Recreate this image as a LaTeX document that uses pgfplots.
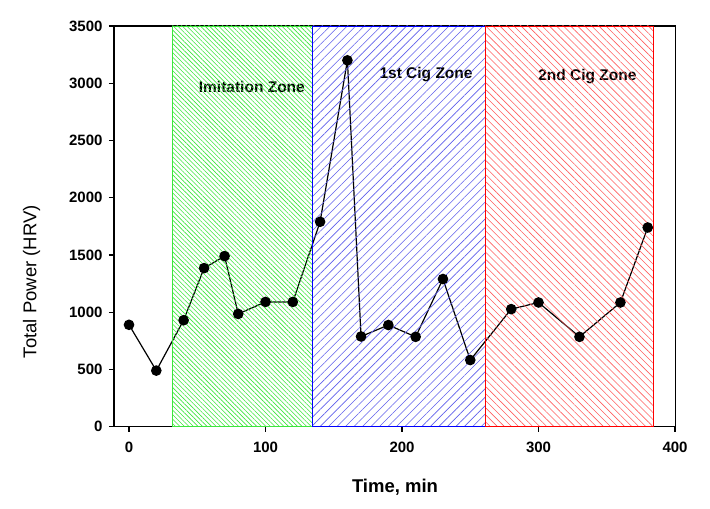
\documentclass[border=0pt]{standalone}
\usepackage{fontspec}
\setmainfont{Liberation Sans}
\usepackage{pgfplots}
\pgfplotsset{compat=1.18}
\usetikzlibrary{patterns.meta}
\definecolor{hgreen}{RGB}{60,230,60}
\definecolor{hblue}{RGB}{95,95,235}
\definecolor{hred}{RGB}{255,95,95}
\begin{document}
\begin{tikzpicture}
\path[use as bounding box] (-114pt,-82.3pt) rectangle (596pt,426.7pt);
\begin{axis}[
  scale only axis,
  width=561.7pt, height=400.7pt,
  xmin=-11, xmax=400.5, ymin=0, ymax=3500,
  xtick={0,100,200,300,400},
  ytick={0,500,1000,1500,2000,2500,3000,3500},
  xtick pos=bottom, ytick pos=left,
  tick align=outside,
  major tick length=5pt,
  minor tick num=0,
  axis line style={line width=1.2pt},
  every tick/.style={line width=1.2pt, black},
  /pgf/number format/assume math mode=true,
  /pgf/number format/set thousands separator={},
  ticklabel style={font=\fontsize{15}{17}\selectfont\bfseries},
  xticklabel style={yshift=-7pt},
  yticklabel style={xshift=-3pt},
  xlabel={Time, min},
  ylabel={Total Power (HRV)},
  xlabel style={font=\fontsize{18.5}{21}\selectfont\bfseries, at={(axis description cs:0.5003,-0.150)}, anchor=center},
  ylabel style={font=\fontsize{18.5}{21}\selectfont, at={(axis description cs:-0.1465,0.362)}, anchor=center},
  clip=false,
]
\addplot[black, line width=1.2pt, mark=*, mark size=4.7pt, mark options={fill=black, draw=black}]
coordinates {
(0,890) (20,490) (40,930) (55,1385) (70,1490) (80,985) (100,1090) (120,1090)
(140,1790) (160,3200) (170,788) (190,888) (210,785) (230,1290) (250,582)
(280,1027) (300,1085) (330,785) (360,1085) (380,1740)
};
\node[font=\fontsize{15.5}{18}\selectfont\bfseries] at (axis cs:90,2970) {Imitation Zone};
\node[font=\fontsize{15.5}{18}\selectfont\bfseries] at (axis cs:217.6,3075) {1st Cig Zone};
\node[font=\fontsize{15.5}{18}\selectfont\bfseries] at (axis cs:335.8,3057) {2nd Cig Zone};
\addplot[draw=hgreen, line width=0.8pt, pattern={Lines[angle=-45,distance=3.2pt,line width=0.6pt]}, pattern color=hgreen]
coordinates {(31.7,0) (31.7,3500) (134.3,3500) (134.3,0) (31.7,0)};
\addplot[draw=blue, line width=0.8pt, pattern={Lines[angle=45,distance=6pt,line width=0.6pt]}, pattern color=hblue]
coordinates {(134.3,0) (134.3,3500) (261,3500) (261,0) (134.3,0)};
\addplot[draw=red, line width=0.8pt, pattern={Lines[angle=-45,distance=5pt,line width=0.6pt]}, pattern color=hred]
coordinates {(261,0) (261,3500) (384,3500) (384,0) (261,0)};
\end{axis}
\end{tikzpicture}
\end{document}
